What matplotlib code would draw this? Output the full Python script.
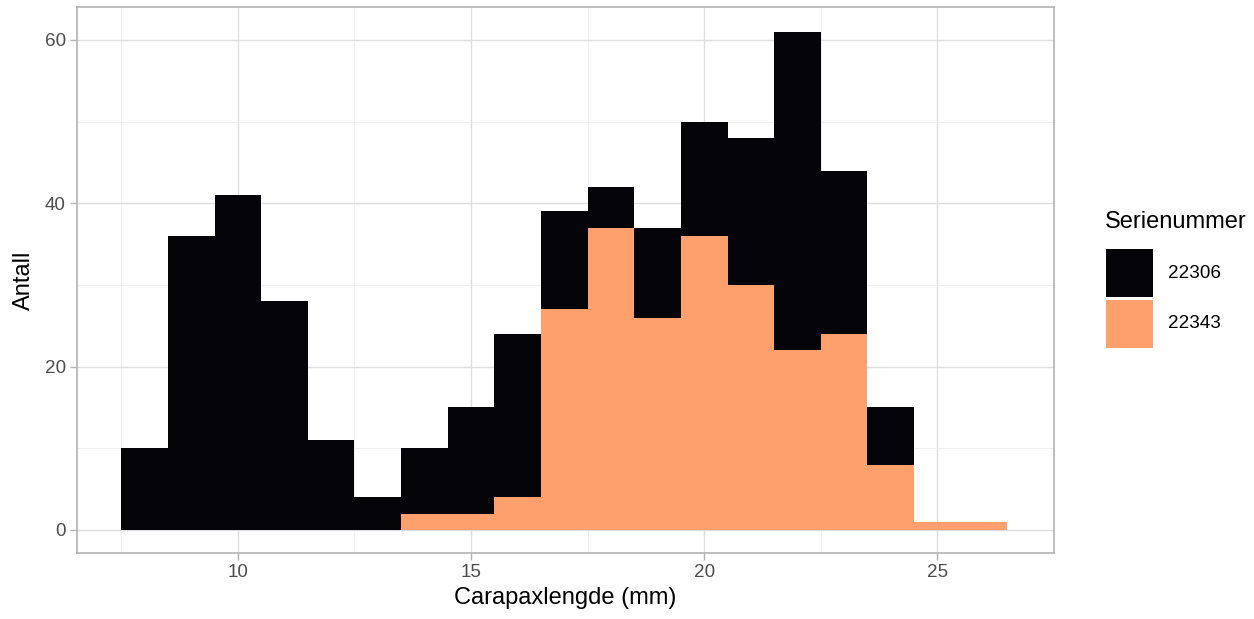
import numpy as np
import matplotlib.pyplot as plt
from matplotlib.patches import Rectangle

plt.rcParams['font.family'] = ['Liberation Sans', 'DejaVu Sans']

# bin centres (width 1 mm)
lengths = [8, 9, 10, 11, 12, 13, 14, 15, 16, 17, 18, 19, 20, 21, 22, 23, 24, 25, 26]
# counts per series (stacked: 22343 at bottom, 22306 on top)
count_22343 = [0, 0, 0, 0, 0, 0, 2, 2, 4, 27, 37, 26, 36, 30, 22, 24, 8, 1, 1]
count_22306 = [10, 36, 41, 28, 11, 4, 8, 13, 20, 12, 5, 11, 14, 18, 39, 20, 7, 0, 0]
series = ['22306', '22343']
colors = ['#050409', '#FDA06D']

W, H = 1254, 619
fig = plt.figure(figsize=(W / 100, H / 100), dpi=100)
ax = fig.add_axes([77 / W, 1 - 553 / H, (1054 - 77) / W, (553 - 7) / H])

ax.bar(lengths, count_22343, width=1, color=colors[1], linewidth=0, zorder=3)
ax.bar(lengths, count_22306, width=1, bottom=count_22343, color=colors[0],
       linewidth=0, zorder=3)

ax.set_xlim(6.55, 27.45)
ax.set_ylim(-2.82, 64.04)
ax.set_xticks([10, 15, 20, 25])
ax.set_yticks([0, 20, 40, 60])
ax.set_xticks([7.5, 12.5, 17.5, 22.5, 27.5], minor=True)
ax.set_yticks([10, 30, 50], minor=True)
ax.grid(which='major', color='#DEDEDE', linewidth=1.0, zorder=0)
ax.grid(which='minor', color='#EDEDED', linewidth=0.6, zorder=0)
for s in ax.spines.values():
    s.set_color('#B3B3B3')
    s.set_linewidth(1.2)
ax.tick_params(which='major', colors='#B3B3B3', labelcolor='#4D4D4D',
               labelsize=13.6, length=5, width=1, pad=3)
ax.tick_params(which='minor', length=0)

ax.set_xlabel('Carapaxlengde (mm)', fontsize=17, labelpad=4)
ax.set_ylabel('Antall', fontsize=17, labelpad=7)

# legend drawn by hand to match the key sizes
fig.text(1105 / W, 1 - 222 / H, 'Serienummer', fontsize=17, va='center', ha='left')
for i, (lab, c) in enumerate(zip(series, colors)):
    top = 249 + i * 51
    fig.add_artist(Rectangle((1106 / W, 1 - (top + 48) / H), 47 / W, 48 / H,
                             facecolor=c, edgecolor='none', transform=fig.transFigure))
    fig.text(1168 / W, 1 - (top + 24) / H, lab, fontsize=13.6, va='center', ha='left')

fig.savefig('out.png', dpi=100)
